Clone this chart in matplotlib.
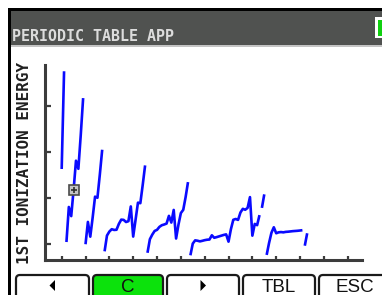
import numpy as np
import matplotlib
matplotlib.use("Agg")
import matplotlib.pyplot as plt
from matplotlib.patches import Rectangle, FancyBboxPatch, Polygon

# first ionization energy (kJ/mol), Z = 1..104
atomic_number = np.arange(1, 105)
ionization = [
    1312, 2372,
    520, 900, 801, 1086, 1402, 1314, 1681, 2081,
    496, 738, 578, 787, 1012, 1000, 1251, 1521,
    419, 590, 633, 659, 651, 653, 717, 763, 760, 737, 746, 906, 579, 762, 947, 941, 1140, 1351,
    403, 550, 600, 640, 652, 684, 702, 710, 720, 804, 731, 868, 558, 709, 834, 869, 1008, 1170,
    376, 503, 538, 534, 527, 533, 540, 545, 547, 593, 566, 573, 581, 589, 597, 603, 524,
    659, 761, 770, 760, 840, 880, 870, 890, 1007, 589, 716, 703, 812, 890, 1037,
    380, 509, 620, 680, 615, 625, 628, 625, 630, 632, 635, 638, 640, 642, 645, 648, 480, 615,
]
# the screen draws the curve in pieces: a new piece starts at these Z
piece_starts = [1, 3, 11, 19, 37, 55, 85, 87, 103, 105]
cursor_z = 6  # C

x_ticks = np.arange(1, 122, 10)
y_ticks = [500, 1000, 1500, 2000]

tabs = ["◀", "C", "▶", "TBL", "ESC"]
selected_tab = 1

W, H = 382, 295
fig = plt.figure(figsize=(W / 100, H / 100), dpi=100)

# screen furniture in pixel coordinates
bg = fig.add_axes([0, 0, 1, 1])
bg.set_xlim(0, W)
bg.set_ylim(H, 0)
bg.axis("off")

bg.add_patch(Rectangle((8, 8), W, 2.5, color="black", lw=0))
bg.add_patch(Rectangle((8, 8), 2.5, H, color="black", lw=0))
bg.add_patch(Rectangle((10.5, 10.5), W, 34.5, color="#505250", lw=0))
bg.add_patch(Rectangle((10.5, 45), W, 1.5, color="#c4c4c4", lw=0))
bg.text(12, 36.5, "PERIODIC TABLE APP", family="DejaVu Sans Mono", weight="bold",
        fontsize=10.8, color="#dcdcdc", va="center", ha="left")
bg.add_patch(Rectangle((375, 17), 10, 21, color="white", lw=0))
bg.add_patch(Rectangle((377.5, 19.5), 8, 16.5, color="#10d010", lw=0))

bg.text(25, 163, "1ST IONIZATION ENERGY", family="DejaVu Sans Mono", weight="bold",
        fontsize=11.5, color="#202020", rotation=90, va="center", ha="center")

tab_x = [(15, 90), (92, 164), (166, 240), (242, 316), (318, 392)]
for i, (lab, (x0, x1)) in enumerate(zip(tabs, tab_x)):
    face = "#0ce20c" if i == selected_tab else "white"
    bg.add_patch(FancyBboxPatch((x0 + 1, 275), x1 - x0 - 2, 40,
                                boxstyle="round,pad=0,rounding_size=4",
                                fc=face, ec="#1a1a1a", lw=1.6))
    cx = (x0 + x1) / 2
    if lab == "◀":
        bg.add_patch(Polygon([(cx - 3, 285.5), (cx + 2.5, 280), (cx + 2.5, 291)], color="black", lw=0))
    elif lab == "▶":
        bg.add_patch(Polygon([(cx + 3, 285.5), (cx - 2.5, 280), (cx - 2.5, 291)], color="black", lw=0))
    else:
        bg.text(cx, 295.5, lab, family="Liberation Sans", fontsize=13.5,
                color="#111111", ha="center", va="bottom")

# the graph itself
ax = fig.add_axes([45 / W, (H - 260) / H, (362 - 45) / W, (260 - 65) / H])
ax.patch.set_alpha(0)
ax.set_xlim(-6, 127)
ax.set_ylim(325, 2440)

ie = np.array(ionization)
for a, b in zip(piece_starts[:-1], piece_starts[1:]):
    ax.plot(atomic_number[a - 1:b - 1], ie[a - 1:b - 1], color="#0a0aff", lw=1.9,
            solid_capstyle="butt", clip_on=False)

cz = cursor_z
ax.plot([cz], [ie[cz - 1]], marker="s", ms=6.5, mfc="#c4c4c4", mec="#4a4a4a", mew=1.2, zorder=5)
ax.plot([cz], [ie[cz - 1]], marker="+", ms=4.5, mec="#303030", mew=1.2, zorder=6)

for s in ["top", "right"]:
    ax.spines[s].set_visible(False)
for s in ["left", "bottom"]:
    ax.spines[s].set_color("#3c3c3c")
    ax.spines[s].set_linewidth(2.2)
ax.set_xticks(x_ticks)
ax.set_yticks(y_ticks)
ax.tick_params(axis="y", direction="in", length=4, width=1.6, color="#3c3c3c", labelleft=False)
ax.tick_params(axis="x", direction="in", length=3, width=1.6, color="#3c3c3c", labelbottom=False)

fig.savefig("out.png", dpi=100)
